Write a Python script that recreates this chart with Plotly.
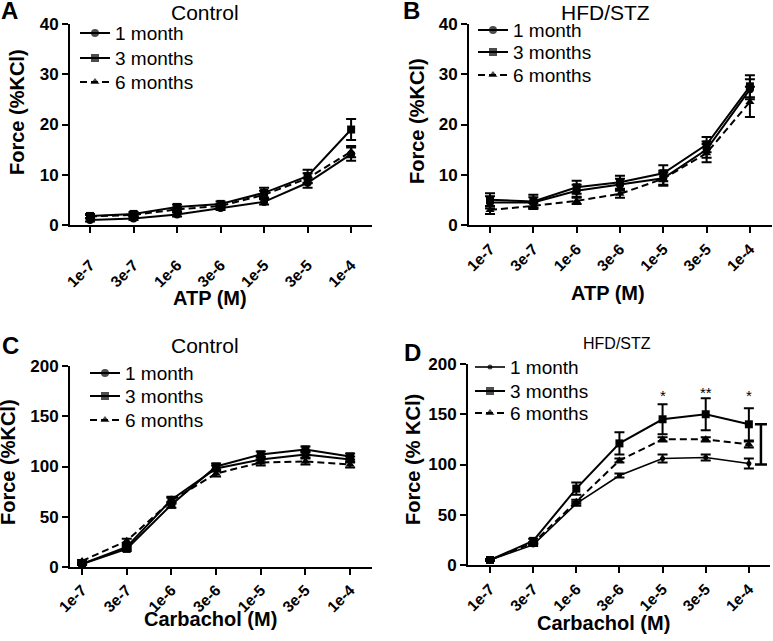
import plotly.graph_objects as go

W, H = 773, 641
FONT = "Arial, Liberation Sans, Helvetica, sans-serif"

conc = ["1e-7", "3e-7", "1e-6", "3e-6", "1e-5", "3e-5", "1e-4"]
idx = list(range(len(conc)))
series_names = ["1 month", "3 months", "6 months"]

# Panel A: ATP, Control
a_1m = [1.0, 1.3, 2.1, 3.4, 4.6, 8.4, 14.1]
a_1m_err = [0.3, 0.3, 0.4, 0.4, 0.5, 1.0, 1.3]
a_3m = [1.8, 2.2, 3.6, 4.2, 6.4, 9.7, 19.0]
a_3m_err = [0.4, 0.4, 0.5, 0.5, 1.0, 1.3, 2.1]
a_6m = [1.7, 2.0, 3.1, 3.8, 6.0, 9.3, 14.6]
a_6m_err = [0.3, 0.3, 0.4, 0.4, 0.8, 1.0, 1.1]

# Panel B: ATP, HFD/STZ
b_1m = [4.5, 4.5, 6.8, 8.0, 9.3, 15.0, 27.0]
b_1m_err = [1.2, 1.0, 1.2, 1.2, 1.5, 1.6, 2.0]
b_3m = [5.0, 4.7, 7.5, 8.5, 10.3, 16.0, 27.6]
b_3m_err = [1.3, 1.3, 1.3, 1.3, 1.6, 1.5, 2.2]
b_6m = [3.0, 3.8, 4.8, 6.2, 9.2, 14.3, 24.5]
b_6m_err = [0.8, 0.6, 0.6, 0.8, 1.2, 1.8, 3.0]

# Panel C: Carbachol, Control
c_1m = [3, 20, 67, 98, 107, 112, 107]
c_1m_err = [1, 2, 3, 3, 3, 3, 3]
c_3m = [3, 18, 62, 100, 112, 117, 110]
c_3m_err = [1, 2, 3, 3, 3, 3, 3]
c_6m = [6, 26, 66, 93, 104, 105, 102]
c_6m_err = [1, 2, 3, 3, 3, 3, 3]

# Panel D: Carbachol, HFD/STZ
d_1m = [5, 20, 61, 89, 106, 107, 101]
d_1m_err = [1, 1, 2, 2, 4, 3, 5]
d_3m = [5, 24, 76, 121, 145, 150, 140]
d_3m_err = [1, 2, 6, 11, 15, 16, 16]
d_6m = [5, 22, 63, 104, 125, 125, 120]
d_6m_err = [1, 1, 2, 2, 2, 2, 3]

d_stars = ["", "", "", "", "*", "**", "*"]
d_stars_y = [None, None, None, None, 169, 172, 169]
d_bracket_low, d_bracket_high = 100, 140

fig = go.Figure()

def px_x(p):
    return p / W

def px_y(p):
    return 1 - p / H

panels = [
    dict(xs="", ys="", xd=(70, 372), yd=(225, 24), xr=[-0.46, 6.48], yr=[0, 40], dt=10,
         data=[(a_1m, a_1m_err), (a_3m, a_3m_err), (a_6m, a_6m_err)],
         leg_x=80, leg_rows=(33, 58, 82), standoff=17),
    dict(xs="2", ys="2", xd=(469, 772), yd=(225, 24), xr=[-0.485, 6.51], yr=[0, 40], dt=10,
         data=[(b_1m, b_1m_err), (b_3m, b_3m_err), (b_6m, b_6m_err)],
         leg_x=478, leg_rows=(30, 52, 75), standoff=1),
    dict(xs="3", ys="3", xd=(70, 372), yd=(567, 366), xr=[-0.27, 6.49], yr=[0, 200], dt=50,
         data=[(c_1m, c_1m_err), (c_3m, c_3m_err), (c_6m, c_6m_err)],
         leg_x=90, leg_rows=(373, 396, 420), standoff=0),
    dict(xs="4", ys="4", xd=(468, 770), yd=(565, 364), xr=[-0.51, 6.49], yr=[0, 200], dt=50,
         data=[(d_1m, d_1m_err), (d_3m, d_3m_err), (d_6m, d_6m_err)],
         leg_x=475, leg_rows=(367, 391, 413), standoff=1),
]

symbols = ["circle", "square", "triangle-up"]
dashes = ["solid", "solid", "7px,4px"]
annotations = []

layout = {}
for pi, p in enumerate(panels):
    for si, (vals, errs) in enumerate(p["data"]):
        small = (pi == 3 and si == 0)
        lw = 1.6 if small else 2
        ms = 5 if small else 8
        fig.add_trace(go.Scatter(
            x=idx, y=vals,
            xaxis="x" + p["xs"], yaxis="y" + p["ys"],
            mode="lines+markers", name=series_names[si], showlegend=False,
            line=dict(color="black", width=lw, dash=dashes[si]),
            marker=dict(symbol=symbols[si], size=ms, color="black", line=dict(width=0)),
            error_y=dict(type="data", array=errs, visible=True, color="black",
                         thickness=2, width=5),
        ))
        # legend sample drawn on a full-page overlay axis (pixel units)
        L = p["leg_x"]
        ry = p["leg_rows"][si]
        fig.add_trace(go.Scatter(
            x=[L, L + 15, L + 30], y=[ry, ry, ry], xaxis="x5", yaxis="y5",
            mode="lines+markers", showlegend=False, hoverinfo="skip",
            line=dict(color="black", width=lw, dash=dashes[si]),
            marker=dict(symbol=symbols[si], size=[0, ms, 0], color="black",
                        line=dict(width=0)),
        ))
        annotations.append(dict(
            x=L + 33, y=ry, xref="x5", yref="y5", text=series_names[si], showarrow=False,
            xanchor="left", yanchor="middle",
            font=dict(family=FONT, size=19, color="black"),
        ))
    layout["xaxis" + p["xs"]] = dict(
        domain=[px_x(p["xd"][0]), px_x(p["xd"][1])], range=p["xr"],
        anchor="y" + p["ys"], tickvals=idx, ticktext=conc, tickangle=-45,
        showline=True, linecolor="black", linewidth=2, ticks="outside",
        ticklen=6, tickwidth=2, tickcolor="black", showgrid=False, zeroline=False,
        automargin=False, ticklabelstandoff=p["standoff"],
        tickfont=dict(family=FONT, size=15.5, color="black", weight="bold"),
    )
    layout["yaxis" + p["ys"]] = dict(
        domain=[px_y(p["yd"][0]), px_y(p["yd"][1])], range=p["yr"],
        anchor="x" + p["xs"], dtick=p["dt"], tick0=0,
        showline=True, linecolor="black", linewidth=2, ticks="outside",
        ticklen=6, tickwidth=2, tickcolor="black", showgrid=False, zeroline=False,
        automargin=False,
        tickfont=dict(family=FONT, size=17, color="black", weight="bold"),
    )

# overlay axis in pixel units for legend samples
layout["xaxis5"] = dict(domain=[0, 1], range=[0, W], visible=False, anchor="y5",
                        fixedrange=True)
layout["yaxis5"] = dict(domain=[0, 1], range=[H, 0], visible=False, anchor="x5",
                        fixedrange=True)

# Significance bracket in panel D
fig.add_trace(go.Scatter(
    x=[6.28], y=[(d_bracket_low + d_bracket_high) / 2], xaxis="x4", yaxis="y4",
    mode="markers", marker=dict(size=1, color="rgba(0,0,0,0)"), showlegend=False,
    error_y=dict(type="data", array=[(d_bracket_high - d_bracket_low) / 2],
                 visible=True, color="black", thickness=2.5, width=6),
    hoverinfo="skip",
))

for i, (s, yv) in enumerate(zip(d_stars, d_stars_y)):
    if s:
        annotations.append(dict(x=i, y=yv, xref="x4", yref="y4", text=s, showarrow=False,
                                font=dict(family=FONT, size=15, color="black")))

def ann(text, x, y, size, bold=False, angle=0):
    annotations.append(dict(
        x=px_x(x), y=px_y(y), xref="paper", yref="paper", text=text, showarrow=False,
        xanchor="center", yanchor="middle", textangle=angle,
        font=dict(family=FONT, size=size, color="black", weight="bold" if bold else "normal"),
    ))

ann("A", 9, 11, 24, True)
ann("B", 411, 11, 24, True)
ann("C", 10, 345, 24, True)
ann("D", 412, 352, 24, True)
ann("Control", 205, 13, 21)
ann("HFD/STZ", 605, 12, 21)
ann("Control", 205, 345, 21)
ann("HFD/STZ", 617, 343, 16)
ann("Force (%KCl)", 17, 112, 20, True, -90)
ann("Force (%KCl)", 417, 121, 20, True, -90)
ann("Force (%KCl)", 8, 462, 20, True, -90)
ann("Force (% KCl)", 413, 460, 20, True, -90)
ann("ATP (M)", 210, 298, 20, True)
ann("ATP (M)", 608, 293, 20, True)
ann("Carbachol (M)", 210, 619, 20, True)
ann("Carbachol (M)", 603, 623, 20, True)

fig.update_layout(
    width=W, height=H, margin=dict(l=0, r=0, t=0, b=0, pad=0, autoexpand=False),
    paper_bgcolor="white", plot_bgcolor="rgba(0,0,0,0)",
    font=dict(family=FONT, color="black"),
    annotations=annotations, showlegend=False,
    **layout,
)

fig.write_html(
    "out.html",
    config={"displayModeBar": False},
    post_script="document.body.style.margin='0';document.body.style.overflow='hidden';",
)
